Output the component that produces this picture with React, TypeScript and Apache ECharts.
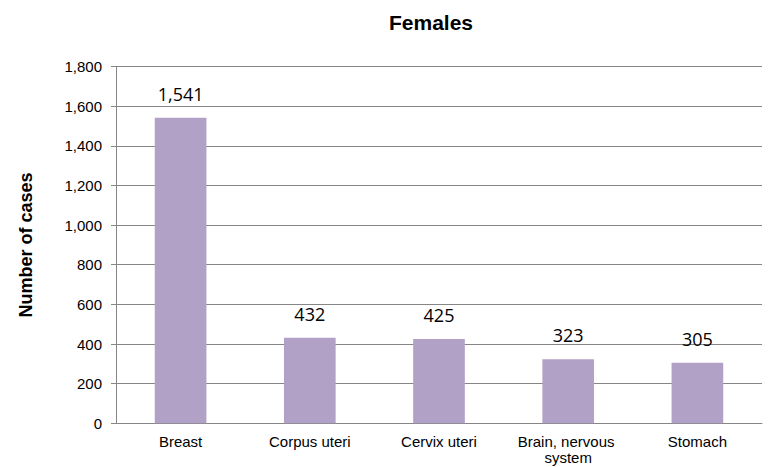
import React, { useEffect, useRef } from "react";
import * as echarts from "echarts";

const categories = ["Breast", "Corpus uteri", "Cervix uteri", "Brain, nervous system", "Stomach"];
const values = [1541, 432, 425, 323, 305];
const yTicks = { min: 0, max: 1800, interval: 200 };

const SANS = "'Liberation Sans', Arial, Helvetica, sans-serif";

export default function App() {
  const ref = useRef<HTMLDivElement>(null);
  useEffect(() => {
    if (!ref.current) return;
    const chart = echarts.init(ref.current, undefined, { renderer: "svg" });
    chart.setOption({
      animation: false,
      backgroundColor: "#ffffff",
      title: {
        text: "Females",
        left: 426,
        top: 7,
        textAlign: "center",
        textStyle: { fontFamily: SANS, fontSize: 21, fontWeight: "bold", color: "#000000" },
      },
      grid: { left: 116, right: 8, top: 66.5, bottom: 43.7, containLabel: false },
      xAxis: {
        type: "category",
        data: categories,
        axisLine: { show: true, lineStyle: { color: "#868686", width: 1 } },
        axisTick: { show: false },
        axisLabel: {
          interval: 0,
          margin: 10,
          fontFamily: SANS,
          fontSize: 15,
          color: "#000000",
          lineHeight: 16,
          width: 120,
          overflow: "break",
        },
      },
      yAxis: {
        type: "value",
        min: yTicks.min,
        max: yTicks.max,
        interval: yTicks.interval,
        name: "Number of cases",
        nameLocation: "middle",
        nameGap: 81,
        nameRotate: 90,
        nameTextStyle: { fontFamily: SANS, fontSize: 18, fontWeight: "bold", color: "#000000" },
        axisLine: { show: true, lineStyle: { color: "#868686", width: 1 } },
        axisTick: { show: true, inside: false, length: 5, lineStyle: { color: "#868686" } },
        splitLine: { show: true, lineStyle: { color: "#868686", width: 1 } },
        axisLabel: {
          margin: 14,
          fontFamily: SANS,
          fontSize: 15,
          color: "#000000",
          formatter: (v: number) => v.toLocaleString("en-US"),
        },
      },
      series: [
        {
          type: "bar",
          data: values,
          barWidth: "40%",
          itemStyle: { color: "#B2A1C7" },
          label: {
            show: true,
            position: "top",
            distance: 15,
            fontFamily: "'Open Sans', sans-serif",
            fontSize: 18,
            lineHeight: 18,
            color: "#000000",
            formatter: (p: any) => Number(p.value).toLocaleString("en-US"),
          },
        },
      ],
    });
    return () => chart.dispose();
  }, []);
  return <div ref={ref} style={{ width: 770, height: 467, position: "absolute", left: 0, top: 0 }} />;
}
